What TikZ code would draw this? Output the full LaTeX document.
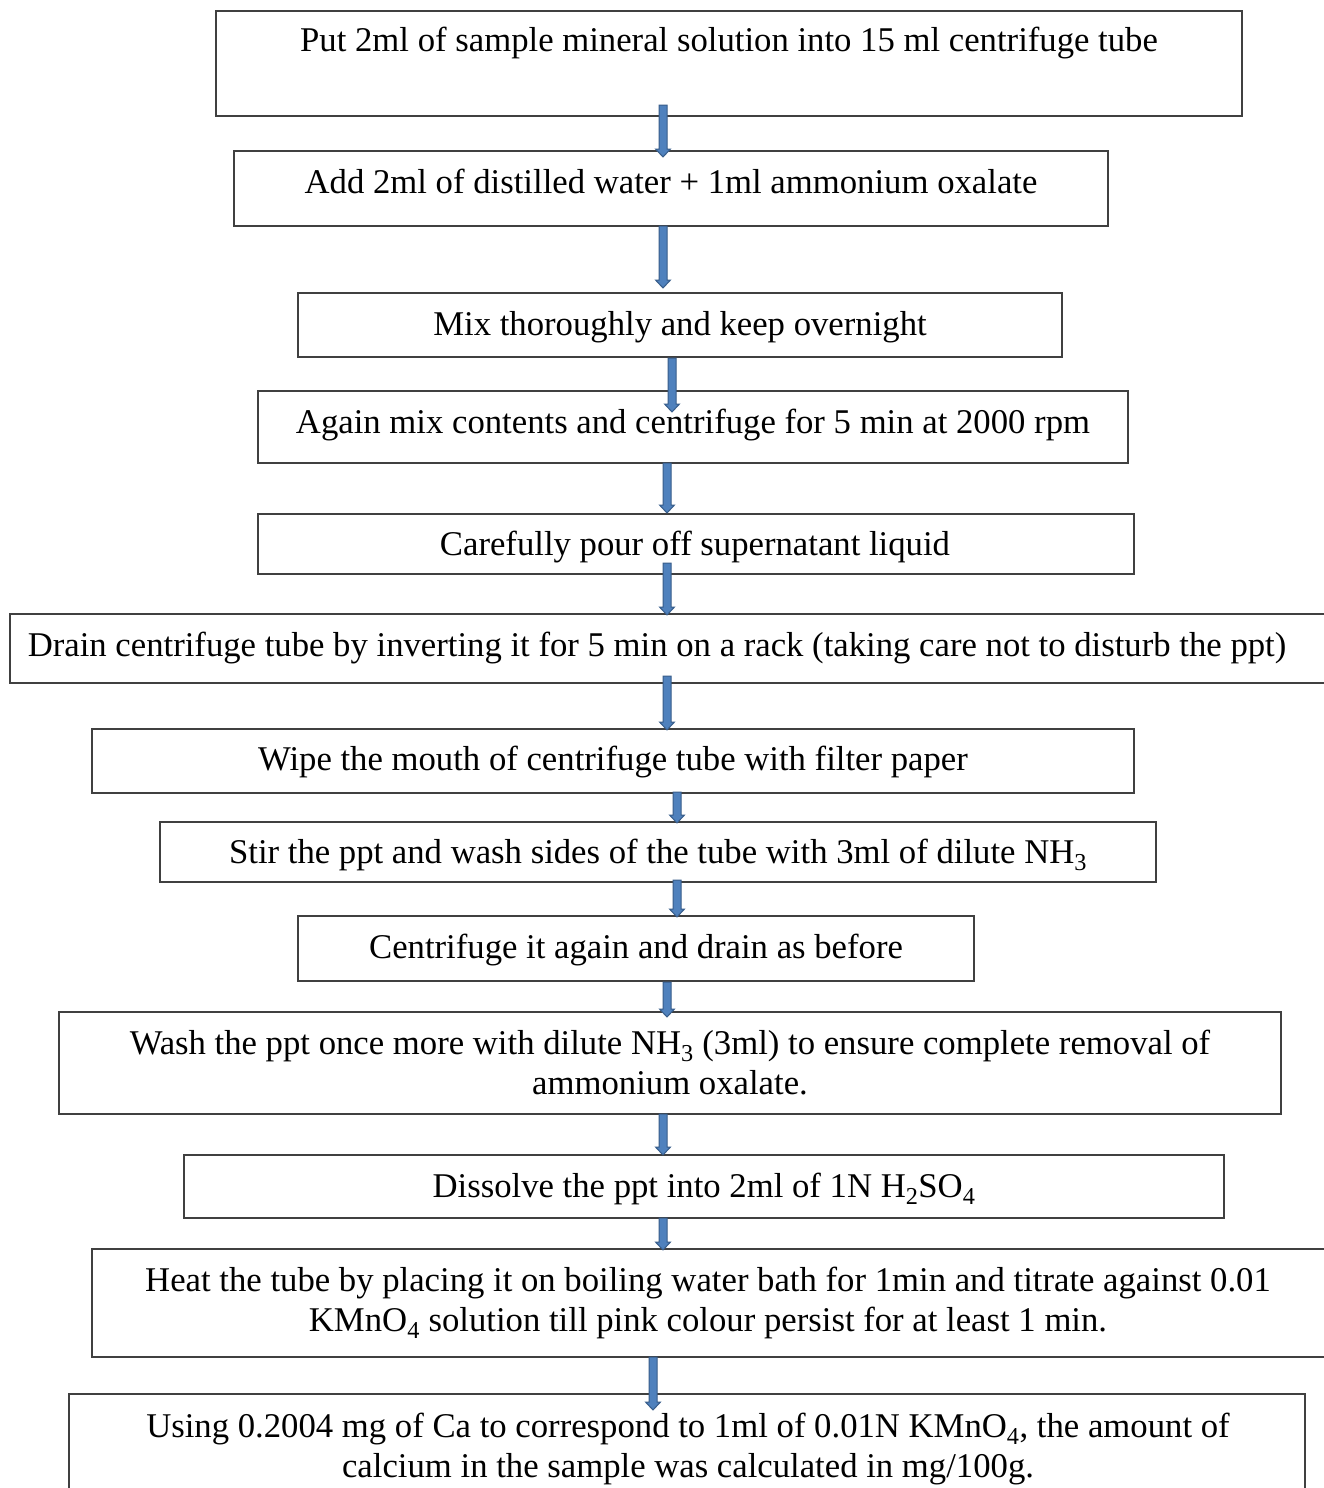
\documentclass[tikz,border=0pt]{standalone}
\usepackage{fontspec}
\setmainfont{Liberation Serif}
\definecolor{arrfill}{HTML}{4F81BD}
\definecolor{arrline}{HTML}{385D8A}
\definecolor{boxline}{HTML}{404040}
\newcommand\dnarrow[4]{% name, x, ytop, ytip
  \coordinate (#1s) at (#2,#3);
  \coordinate (#1e) at (#2,#4);
  \filldraw[flowarrow] (#2-4,#3) -- (#2+4,#3) -- (#2+4,#4-8) -- (#2+7.5,#4-8) -- (#1e) -- (#2-7.5,#4-8) -- (#2-4,#4-8) -- cycle;}
\begin{document}
\begin{tikzpicture}[x=1pt,y=-1pt,
  flowbox/.style={draw=boxline,line width=1.3pt},
  flowtext/.style={inner sep=0pt,anchor=base,font=\fontsize{34.7}{40}\selectfont},
  flowarrow/.style={fill=arrfill,draw=arrline,line width=1pt,line join=miter}]
\useasboundingbox (0,0) rectangle (1323,1488);
\fill[white] (0,0) rectangle (1323,1488);
% boxes
\draw[flowbox] (216,11) rectangle (1242,116);
\node[flowtext] (t1) at (729,52) {Put 2ml of sample mineral solution into 15 ml centrifuge tube};
\draw[flowbox] (234,151) rectangle (1108,226);
\node[flowtext] (t2) at (671,193) {Add 2ml of distilled water + 1ml ammonium oxalate};
\draw[flowbox] (298,293) rectangle (1062,357);
\node[flowtext] (t3) at (680,335) {Mix thoroughly and keep overnight};
\draw[flowbox] (258,391) rectangle (1128,463);
\node[flowtext] (t4) at (693,433) {Again mix contents and centrifuge for 5 min at 2000 rpm};
\draw[flowbox] (258,514) rectangle (1134,574);
\node[flowtext] (t5) at (695,555) {Carefully pour off supernatant liquid};
\draw[flowbox] (10,614) rectangle (1335,683);
\node[flowtext] (t6) at (657,656) {Drain centrifuge tube by inverting it for 5 min on a rack (taking care not to disturb the ppt)};
\draw[flowbox] (92,729) rectangle (1134,793);
\node[flowtext] (t7) at (613,770) {Wipe the mouth of centrifuge tube with filter paper};
\draw[flowbox] (160,822) rectangle (1156,882);
\node[flowtext] (t8) at (658,863) {Stir the ppt and wash sides of the tube with 3ml of dilute NH\textsubscript{3}};
\draw[flowbox] (298,916) rectangle (974,981);
\node[flowtext] (t9) at (636,958) {Centrifuge it again and drain as before};
\draw[flowbox] (59,1012) rectangle (1281,1114);
\node[flowtext,align=center] (t10) at (670,1094) {Wash the ppt once more with dilute NH\textsubscript{3} (3ml) to ensure complete removal of\\ammonium oxalate.};
\draw[flowbox] (184,1155) rectangle (1224,1218);
\node[flowtext] (t11) at (704,1197) {Dissolve the ppt into 2ml of 1N H\textsubscript{2}SO\textsubscript{4}};
\draw[flowbox] (92,1249) rectangle (1335,1357);
\node[flowtext,align=center] (t12) at (708,1331) {Heat the tube by placing it on boiling water bath for 1min and titrate against 0.01\\KMnO\textsubscript{4} solution till pink colour persist for at least 1 min.};
\draw[flowbox] (69,1394) rectangle (1305,1500);
\node[flowtext,align=center] (t13) at (688,1477) {Using 0.2004 mg of Ca to correspond to 1ml of 0.01N KMnO\textsubscript{4}, the amount of\\calcium in the sample was calculated in mg/100g.};
% arrows
\dnarrow{a1}{663}{105}{157}
\dnarrow{a2}{663}{226}{288}
\dnarrow{a3}{672}{358}{412}
\dnarrow{a4}{667}{463}{513}
\dnarrow{a5}{667}{563}{615}
\dnarrow{a6}{667}{676}{730}
\dnarrow{a7}{677}{792}{823}
\dnarrow{a8}{677}{880}{917}
\dnarrow{a9}{667}{982}{1017}
\dnarrow{a10}{663}{1114}{1155}
\dnarrow{a11}{663}{1218}{1250}
\dnarrow{a12}{653}{1357}{1410}
\end{tikzpicture}
\end{document}
